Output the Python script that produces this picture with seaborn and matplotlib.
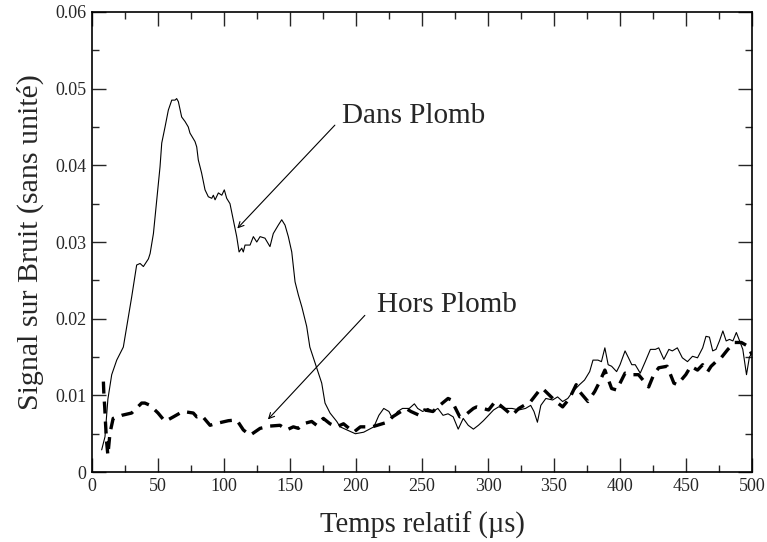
import numpy as np
import pandas as pd
import matplotlib
matplotlib.use('Agg')
import matplotlib.pyplot as plt
import seaborn as sns
from matplotlib.ticker import MultipleLocator

# Dans Plomb (trait plein)
dans_t = [7.3, 9.8, 12.0, 14.9, 18.7, 22.5, 23.7, 26.3, 30.0, 33.8, 36.4, 38.9, 42.7, 44.0,
          46.5, 49.0, 51.5, 52.8, 55.3, 57.8, 60.4, 62.9, 64.1, 65.4, 67.9, 70.5, 72.9, 74.2,
          78.0, 79.3, 80.5, 83.0, 85.6, 88.1, 90.7, 91.9, 93.2, 95.7, 98.3, 100.2, 102.0, 104.5,
          107.0, 109.6, 111.4, 113.4, 114.6, 115.9, 119.7, 122.2, 124.8, 127.3, 131.0, 134.8,
          137.3, 141.1, 143.7, 146.2, 148.7, 151.3, 153.8, 156.3, 159.0, 162.6, 165.0, 170.0,
          174.0, 176.5, 180.3, 185.4, 187.9, 193.0, 199.5, 205.8, 213.5, 217.3, 221.0, 224.9,
          227.6, 231.4, 235.2, 240.3, 244.2, 246.7, 250.5, 254.4, 258.2, 262.0, 265.9, 269.7,
          273.6, 277.4, 281.2, 285.0, 288.9, 292.7, 296.5, 300.4, 304.2, 308.0, 313.0, 318.2,
          323.3, 328.4, 332.3, 334.8, 337.4, 340.0, 343.8, 348.9, 352.7, 356.5, 360.4, 364.2,
          369.3, 373.1, 377.0, 379.5, 383.3, 385.9, 388.5, 391.0, 393.6, 397.4, 400.0, 403.8,
          406.4, 408.9, 411.5, 415.3, 419.1, 423.0, 426.8, 429.3, 433.2, 437.0, 439.6, 443.4,
          447.2, 451.1, 454.9, 458.7, 462.6, 465.1, 467.7, 470.2, 472.7, 475.3, 477.9, 480.4,
          482.9, 485.5, 488.1, 490.6, 493.0, 495.8, 498.0, 500.0]
dans_snr = [0.0029, 0.0046, 0.0095, 0.0127, 0.0146, 0.0159, 0.0163, 0.0190, 0.0228, 0.0270,
            0.0272, 0.0268, 0.0278, 0.0285, 0.0311, 0.0355, 0.0398, 0.0429, 0.0450, 0.0472,
            0.0485, 0.0485, 0.0487, 0.0483, 0.0463, 0.0457, 0.0450, 0.0442, 0.0431, 0.0424,
            0.0407, 0.0390, 0.0368, 0.0359, 0.0357, 0.0361, 0.0355, 0.0364, 0.0361, 0.0368,
            0.0357, 0.0350, 0.0329, 0.0307, 0.0287, 0.0292, 0.0287, 0.0296, 0.0296, 0.0307,
            0.0300, 0.0307, 0.0305, 0.0294, 0.0311, 0.0322, 0.0329, 0.0322, 0.0307, 0.0287,
            0.0248, 0.0231, 0.0215, 0.0190, 0.0163, 0.0137, 0.0116, 0.0090, 0.0077, 0.0066,
            0.0059, 0.0055, 0.0050, 0.0052, 0.0059, 0.0074, 0.0083, 0.0079, 0.0070, 0.0079,
            0.0083, 0.0083, 0.0089, 0.0083, 0.0079, 0.0083, 0.0079, 0.0083, 0.0074, 0.0076,
            0.0072, 0.0056, 0.0070, 0.0061, 0.0056, 0.0061, 0.0067, 0.0074, 0.0081, 0.0085,
            0.0083, 0.0083, 0.0081, 0.0083, 0.0087, 0.0079, 0.0065, 0.0087, 0.0096, 0.0094,
            0.0098, 0.0092, 0.0096, 0.0105, 0.0114, 0.0120, 0.0131, 0.0146, 0.0146, 0.0144,
            0.0162, 0.0140, 0.0138, 0.0131, 0.0140, 0.0158, 0.0149, 0.0140, 0.0140, 0.0129,
            0.0144, 0.0160, 0.0160, 0.0162, 0.0147, 0.0160, 0.0158, 0.0162, 0.0149, 0.0144,
            0.0151, 0.0149, 0.0162, 0.0177, 0.0176, 0.0158, 0.0160, 0.0171, 0.0184, 0.0171,
            0.0173, 0.0171, 0.0182, 0.0171, 0.0160, 0.0127, 0.0150, 0.0155]

# Hors Plomb (tirets)
hors_t = [8.6, 9.0, 9.6, 10.2, 11.0, 12.0, 13.6, 16.0, 22.5, 30.0, 37.6, 40.0, 44.0, 50.0,
          55.3, 61.6, 66.7, 69.0, 76.7, 79.3, 83.0, 89.4, 93.2, 103.3, 109.6, 114.6, 119.7,
          127.3, 134.8, 142.4, 147.5, 152.5, 156.3, 160.0, 166.4, 170.2, 175.2, 180.3, 185.4,
          190.5, 198.2, 203.3, 212.2, 223.7, 227.6, 237.8, 241.6, 248.0, 251.8, 258.2, 262.0,
          269.7, 272.2, 278.6, 282.5, 288.9, 291.4, 300.4, 305.4, 309.3, 318.2, 323.3, 332.3,
          340.0, 342.5, 351.4, 356.5, 361.7, 366.8, 369.3, 375.7, 380.8, 384.6, 388.5, 393.6,
          397.4, 403.8, 408.9, 414.0, 421.7, 425.5, 429.3, 435.7, 440.8, 443.4, 449.8, 453.6,
          458.7, 462.6, 466.4, 469.0, 472.7, 476.6, 481.7, 486.8, 491.9, 497.0, 500.0]
hors_snr = [0.0118, 0.0100, 0.0085, 0.0064, 0.0040, 0.0022, 0.0051, 0.0070, 0.0074, 0.0077,
            0.0090, 0.0090, 0.0087, 0.0077, 0.0066, 0.0072, 0.0077, 0.0079, 0.0077, 0.0072,
            0.0074, 0.0061, 0.0063, 0.0067, 0.0068, 0.0055, 0.0048, 0.0057, 0.0060, 0.0061,
            0.0055, 0.0059, 0.0057, 0.0063, 0.0066, 0.0061, 0.0070, 0.0063, 0.0059, 0.0063,
            0.0052, 0.0059, 0.0059, 0.0065, 0.0072, 0.0083, 0.0079, 0.0074, 0.0081, 0.0079,
            0.0085, 0.0096, 0.0094, 0.0072, 0.0074, 0.0083, 0.0085, 0.0081, 0.0092, 0.0087,
            0.0074, 0.0083, 0.0092, 0.0109, 0.0107, 0.0092, 0.0085, 0.0096, 0.0114, 0.0105,
            0.0092, 0.0105, 0.0118, 0.0133, 0.0109, 0.0107, 0.0129, 0.0127, 0.0127, 0.0111,
            0.0127, 0.0136, 0.0138, 0.0116, 0.0114, 0.0127, 0.0138, 0.0133, 0.0140, 0.0131,
            0.0138, 0.0144, 0.0149, 0.0160, 0.0169, 0.0169, 0.0164, 0.0153]

sns.set_style("ticks")
plt.rcParams['font.family'] = ['Liberation Serif', 'DejaVu Serif']

fig = plt.figure(figsize=(7.67, 5.42), dpi=100)
ax = fig.add_axes([0.12, 0.129, 0.8605, 0.849])

sns.lineplot(x=dans_t, y=dans_snr, color='black', linewidth=0.8, estimator=None, sort=False, ax=ax)
sns.lineplot(x=hors_t, y=hors_snr, color='black', linewidth=2.4, estimator=None, sort=False,
             ax=ax, dashes=False)
ax.lines[-1].set_dashes([3.6, 2.4])

ax.set_xlim(0, 500)
ax.set_ylim(0, 0.06)
ax.xaxis.set_major_locator(MultipleLocator(50))
ax.xaxis.set_minor_locator(MultipleLocator(25))
ax.yaxis.set_major_locator(MultipleLocator(0.01))
ax.yaxis.set_minor_locator(MultipleLocator(0.005))
ax.set_xticks(np.arange(0, 501, 50))
ax.set_xticklabels([str(v) for v in range(0, 501, 50)])
ax.set_yticks(np.arange(0, 0.061, 0.01))
ax.set_yticklabels(['0', '0.01', '0.02', '0.03', '0.04', '0.05', '0.06'])
ax.tick_params(which='major', direction='in', length=10, width=1, top=True, right=True,
               labelsize=13, pad=4)
ax.tick_params(which='minor', direction='in', length=5, width=1, top=True, right=True)
for s in ax.spines.values():
    s.set_visible(True)
    s.set_linewidth(1.2)
    s.set_color('black')

ax.set_xlabel('Temps relatif (µs)', fontsize=20.6, labelpad=12)
ax.set_ylabel('Signal sur Bruit (sans unité)', fontsize=21.5, labelpad=8)

ax.annotate('', xy=(108.6, 0.0315), xytext=(185.4, 0.0455),
            arrowprops=dict(arrowstyle='->', color='black', lw=0.8))
ax.text(189.2, 0.0455, 'Dans Plomb', fontsize=21, ha='left', va='baseline')
ax.annotate('', xy=(131.8, 0.0066), xytext=(208.1, 0.0207),
            arrowprops=dict(arrowstyle='->', color='black', lw=0.8))
ax.text(215.7, 0.0209, 'Hors Plomb', fontsize=21, ha='left', va='baseline')

fig.savefig('out.png', dpi=100)
